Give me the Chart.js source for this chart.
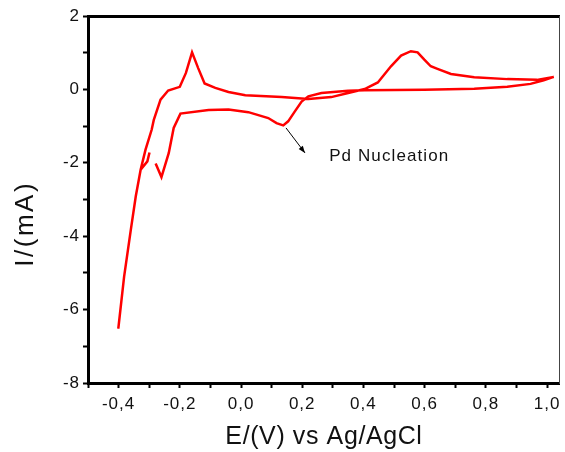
<!DOCTYPE html>
<html>
<head>
<meta charset="utf-8">
<script src="https://cdn.jsdelivr.net/npm/chart.js@4/dist/chart.umd.min.js"></script>
<style>
  html, body { margin: 0; padding: 0; background: #fff; }
  #wrap { width: 565px; height: 452px; position: relative; }
</style>
</head>
<body>
<div id="wrap"><canvas id="c" width="565" height="452"></canvas></div>
<script>
// ---- data (single continuous CV sweep, in order) ----
const potentialV = [
  -0.299, -0.306, -0.328, -0.344, -0.360, -0.382, -0.401,
  -0.382, -0.360, -0.344, -0.328, -0.312, -0.292, -0.285, -0.263, -0.238,
  -0.200, -0.180, -0.160, -0.140, -0.119, -0.084, -0.041, 0.014, 0.133,
  0.220, 0.295, 0.350, 0.404, 0.447, 0.490, 0.523, 0.555, 0.577, 0.599,
  0.620, 0.642, 0.686, 0.762, 0.870, 0.967, 1.022,
  0.989, 0.946, 0.870, 0.762, 0.598, 0.404, 0.350, 0.263, 0.220, 0.198,
  0.176, 0.154, 0.138, 0.116, 0.089, 0.024, -0.041, -0.106, -0.198,
  -0.220, -0.236, -0.260, -0.279
];
const currentMA = [
  -1.72, -1.96, -2.19, -2.92, -3.82, -5.10, -6.52,
  -5.10, -3.82, -2.92, -2.19, -1.64, -1.10, -0.83, -0.28, -0.03,
  0.07, 0.45, 1.01, 0.58, 0.16, 0.04, -0.07, -0.16, -0.21,
  -0.26, -0.21, -0.10, 0.01, 0.19, 0.63, 0.92, 1.04, 1.01, 0.81,
  0.63, 0.56, 0.42, 0.33, 0.28, 0.26, 0.34,
  0.25, 0.15, 0.07, 0.02, -0.01, -0.02, -0.04, -0.10, -0.19, -0.33,
  -0.60, -0.87, -0.98, -0.92, -0.78, -0.62, -0.55, -0.56, -0.66,
  -1.05, -1.73, -2.39, -2.02
];
const xRange = [-0.5, 1.042];
const yRange = [-8, 2];
const xTitle = 'E/(V) vs Ag/AgCl';
const yTitle = 'I/(mA)';
const noteText = 'Pd Nucleation';
const noteAt = [0.288, -1.83];
const arrowFrom = [0.147, -1.05];
const arrowTo = [0.209, -1.73];

const FONT = "'Liberation Sans', Arial, sans-serif";

const points = potentialV.map((v, i) => ({ x: v, y: currentMA[i] }));

function withSpacing(ctx, sp, fn) {
  const prev = ctx.letterSpacing;
  try { ctx.letterSpacing = sp; } catch (e) {}
  fn();
  try { ctx.letterSpacing = prev; } catch (e) {}
}

const spacingPlugin = {
  id: 'spacing',
  beforeDraw(chart) {
    const ctx = chart.ctx;
    const sx = chart.scales.x, sy = chart.scales.y;
    if (!sx._wrapped) {
      const lx = sx.drawLabels, tx = sx.drawTitle;
      sx.drawLabels = function (a) { withSpacing(ctx, '1px', () => lx.call(this, a)); };
      sx.drawTitle = function (a) { withSpacing(ctx, '0.6px', () => tx.call(this, a)); };
      sx._wrapped = true;
    }
    if (!sy._wrapped) {
      const ly = sy.drawLabels, ty = sy.drawTitle;
      sy.drawLabels = function (a) { withSpacing(ctx, '1px', () => ly.call(this, a)); };
      sy.drawTitle = function (a) { withSpacing(ctx, '2.5px', () => ty.call(this, a)); };
      sy._wrapped = true;
    }
  }
};

const annotationPlugin = {
  id: 'note',
  afterDatasetsDraw(chart) {
    const { ctx, scales: { x, y } } = chart;
    const x1 = x.getPixelForValue(arrowFrom[0]), y1 = y.getPixelForValue(arrowFrom[1]);
    const x2 = x.getPixelForValue(arrowTo[0]), y2 = y.getPixelForValue(arrowTo[1]);
    ctx.save();
    ctx.strokeStyle = '#000';
    ctx.fillStyle = '#000';
    ctx.lineWidth = 1;
    ctx.beginPath(); ctx.moveTo(x1, y1); ctx.lineTo(x2, y2); ctx.stroke();
    const ang = Math.atan2(y2 - y1, x2 - x1);
    const L = 7, W = 2.6;
    ctx.beginPath();
    ctx.moveTo(x2, y2);
    ctx.lineTo(x2 - L * Math.cos(ang) + W * Math.sin(ang), y2 - L * Math.sin(ang) - W * Math.cos(ang));
    ctx.lineTo(x2 - L * Math.cos(ang) - W * Math.sin(ang), y2 - L * Math.sin(ang) + W * Math.cos(ang));
    ctx.closePath(); ctx.fill();
    ctx.font = '17px ' + FONT;
    ctx.textAlign = 'left';
    ctx.textBaseline = 'middle';
    ctx.fillStyle = '#111';
    try { ctx.letterSpacing = '1.1px'; } catch (e) {}
    ctx.fillText(noteText, x.getPixelForValue(noteAt[0]), y.getPixelForValue(noteAt[1]));
    ctx.restore();
  }
};

function xLabel(v) {
  const k = Math.round(v * 10);
  if (Math.abs(v * 10 - k) > 1e-6) return null;
  if (k % 2 !== 0) return '';
  const val = k / 10;
  return (Math.abs(val) < 1e-9 ? 0 : val).toFixed(1).replace('.', ',');
}
function yLabel(v) {
  const k = Math.round(v);
  if (Math.abs(v - k) > 1e-6) return null;
  return (k % 2 === 0) ? String(k) : '';
}

new Chart(document.getElementById('c'), {
  type: 'scatter',
  data: {
    datasets: [{
      data: points,
      showLine: true,
      borderColor: '#ff0000',
      borderWidth: 2.5,
      pointRadius: 0,
      tension: 0,
      fill: false
    }]
  },
  options: {
    responsive: false,
    animation: false,
    layout: { padding: { top: 16, right: 2, left: 0, bottom: 0 } },
    plugins: { legend: { display: false }, tooltip: { enabled: false } },
    scales: {
      x: {
        type: 'linear', position: 'bottom',
        min: xRange[0], max: xRange[1],
        afterFit(s) { s.height = 69; },
        border: { display: true, color: '#000', width: 3 },
        grid: { display: true, drawOnChartArea: false, drawTicks: true, tickLength: 5, tickColor: '#000', tickWidth: 2 },
        ticks: { stepSize: 0.1, includeBounds: false, autoSkip: false, maxRotation: 0, padding: 6, color: '#111',
                 font: { family: FONT, size: 17 }, callback: xLabel },
        title: { display: true, text: xTitle, color: '#111', font: { family: FONT, size: 25 }, padding: { top: 0, bottom: 0 } }
      },
      y: {
        type: 'linear', position: 'left',
        min: yRange[0], max: yRange[1],
        afterFit(s) { s.width = 88; },
        border: { display: true, color: '#000', width: 3 },
        grid: { display: true, drawOnChartArea: false, drawTicks: true, tickLength: 5, tickColor: '#000', tickWidth: 2 },
        ticks: { stepSize: 1, includeBounds: false, autoSkip: false, padding: 3, color: '#111',
                 font: { family: FONT, size: 17 }, callback: yLabel },
        title: { display: true, text: yTitle + '\u00A0\u00A0\u00A0\u00A0\u00A0', color: '#111',
                 font: { family: FONT, size: 26 }, padding: { top: 10, bottom: 0 } }
      },
      xTop: {
        type: 'linear', position: 'top',
        min: xRange[0], max: xRange[1],
        afterFit(s) { s.height = 0; },
        border: { display: true, color: '#000', width: 3 },
        grid: { display: false },
        ticks: { display: false }
      },
      yRight: {
        type: 'linear', position: 'right',
        min: yRange[0], max: yRange[1],
        afterFit(s) { s.width = 0; },
        border: { display: true, color: '#444', width: 1 },
        grid: { display: false },
        ticks: { display: false }
      }
    }
  },
  plugins: [spacingPlugin, annotationPlugin]
});
</script>
</body>
</html>
